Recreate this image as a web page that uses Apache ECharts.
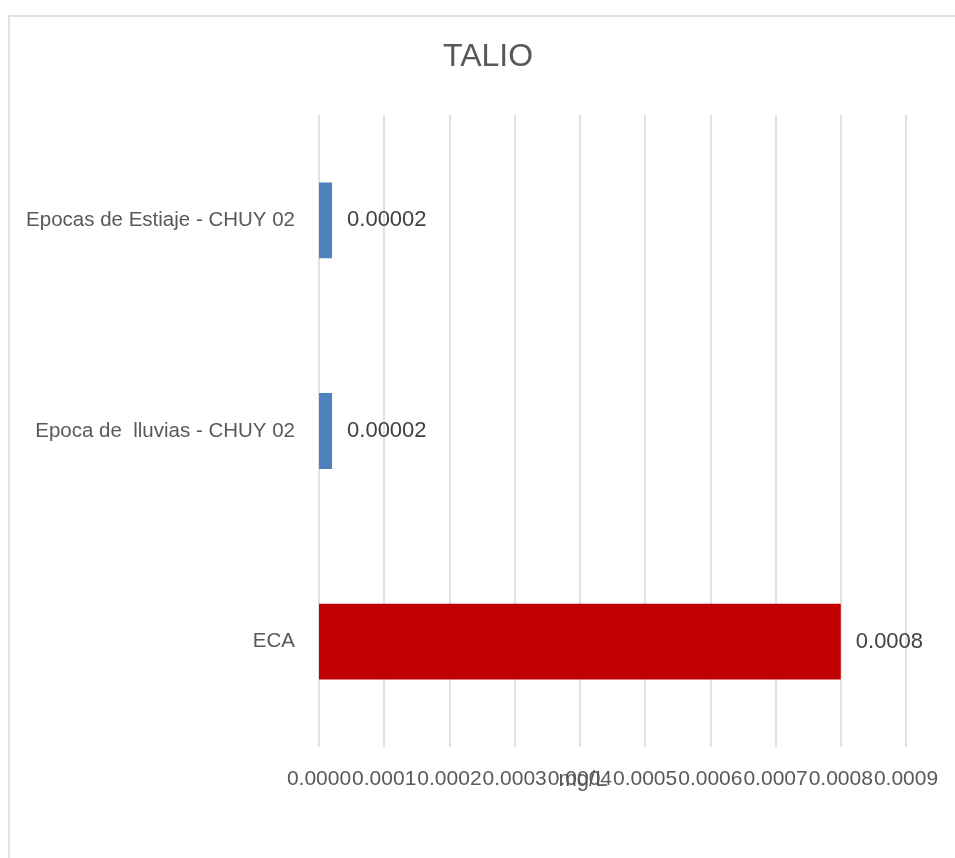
<!DOCTYPE html>
<html>
<head>
<meta charset="utf-8">
<script src="https://cdn.jsdelivr.net/npm/echarts@6/dist/echarts.min.js"></script>
<style>
html,body{margin:0;padding:0;background:#fff;}
#chart{width:955px;height:858px;}
</style>
</head>
<body>
<div id="chart"></div>
<script>
// Data
const categories = ['ECA', 'Epoca de  lluvias - CHUY 02', 'Epocas de Estiaje - CHUY 02'];
const values = [0.0008, 0.00002, 0.00002];
const barColors = ['#C00000', '#4F81BD', '#4F81BD'];
const valueLabels = ['0.0008', '0.00002', '0.00002'];
const xMin = 0, xMax = 0.0009, xStep = 0.0001;
const chartTitle = 'TALIO';
const xAxisName = 'mg/L';

const FONT = '"Liberation Sans", Arial, sans-serif';
const chart = echarts.init(document.getElementById('chart'), null, {renderer: 'canvas'});
chart.setOption({
  animation: false,
  backgroundColor: '#ffffff',
  graphic: [
    {type: 'rect', z: -10, silent: true,
     shape: {x: 9, y: 16, width: 1000, height: 1000},
     style: {fill: 'none', stroke: '#D9D9D9', lineWidth: 1.5}},
    {type: 'text', left: 490 - 47, top: 41,
     style: {text: chartTitle, fill: '#595959', font: '32px ' + FONT}}
  ],
  grid: {left: 319, right: 49, top: 115, bottom: 111, containLabel: false},
  xAxis: {
    type: 'value', min: xMin, max: xMax, interval: xStep,
    name: xAxisName, nameLocation: 'middle', nameGap: 22, nameMoveOverlap: false,
    nameTextStyle: {color: '#595959', fontSize: 22, fontFamily: FONT, padding: [0, 59, 0, 0]},
    axisLine: {show: false}, axisTick: {show: false},
    axisLabel: {color: '#595959', fontSize: 21, fontFamily: FONT, margin: 22, hideOverlap: false,
      showMinLabel: true, showMaxLabel: true,
      formatter: v => v.toFixed(4)},
    splitLine: {show: true, lineStyle: {color: '#D9D9D9', width: 1.5}}
  },
  yAxis: {
    type: 'category', data: categories,
    axisLine: {show: false}, axisTick: {show: false},
    axisLabel: {color: '#595959', fontSize: 20.5, fontFamily: FONT, margin: 24},
    splitLine: {show: false}
  },
  series: [{
    type: 'bar',
    barWidth: '36%',
    data: values.map((v, i) => ({value: v, itemStyle: {color: barColors[i]}})),
    label: {show: true, position: 'right', distance: 15, color: '#404040', fontSize: 22, fontFamily: FONT,
      formatter: p => valueLabels[p.dataIndex]}
  }]
});
</script>
</body>
</html>
